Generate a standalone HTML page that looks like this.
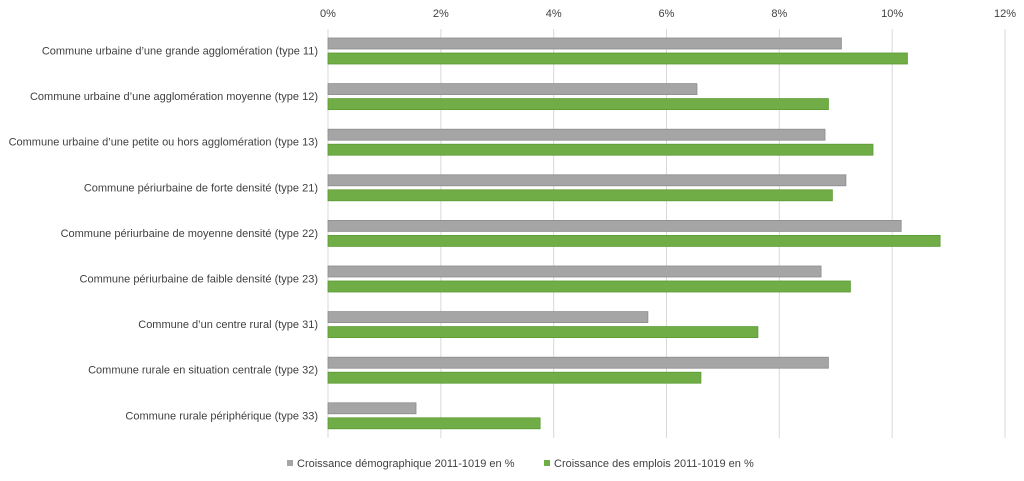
<!DOCTYPE html>
<html><head><meta charset="utf-8"><style>
body{margin:0;background:#fff;font-family:"Liberation Sans",sans-serif;}
svg text{font-family:"Liberation Sans",sans-serif;font-size:11px;fill:#404040;}
</style></head><body>
<svg id="chart" width="1024" height="476" xmlns="http://www.w3.org/2000/svg"></svg>
<script>
const categories=["Commune urbaine d’une grande agglomération (type 11)","Commune urbaine d’une agglomération moyenne (type 12)","Commune urbaine d’une petite ou hors agglomération (type 13)","Commune périurbaine de forte densité (type 21)","Commune périurbaine de moyenne densité (type 22)","Commune périurbaine de faible densité (type 23)","Commune d’un centre rural (type 31)","Commune rurale en situation centrale (type 32)","Commune rurale périphérique (type 33)"];
const demo=[9.1,6.54,8.81,9.18,10.16,8.74,5.67,8.87,1.56];
const emplois=[10.27,8.87,9.66,8.94,10.85,9.26,7.62,6.61,3.76];
const ticks=[0,2,4,6,8,10,12];
const NS="http://www.w3.org/2000/svg";
const svg=document.getElementById('chart');
const x0=328,x1=1005,yTop=28.5,band=45.6;
const xs=v=>x0+(x1-x0)*v/12;
function mk(t,a,p){const e=document.createElementNS(NS,t);for(const k in a)e.setAttribute(k,a[k]);(p||svg).appendChild(e);return e;}
ticks.forEach(t=>{
  const g=mk('line',{x1:xs(t),x2:xs(t),y1:29,y2:438,stroke:'#d9d9d9','stroke-width':1});
  
  
  const l=mk('text',{x:xs(t),y:17,'text-anchor':'middle'});l.textContent=t+'%';
  
  
});
categories.forEach((c,i)=>{
  const yb=yTop+i*band;
  const l=mk('text',{x:318,y:yb+26,'text-anchor':'end'});l.textContent=c;
  
  
  const b1=mk('rect',{x:x0,y:yb+9.5,width:xs(demo[i])-x0,height:11,fill:'#a5a5a5',stroke:'#8c8c8c','stroke-width':0.8});
  
  
  const b2=mk('rect',{x:x0,y:yb+24.5,width:xs(emplois[i])-x0,height:11,fill:'#70ad47',stroke:'#5a9a32','stroke-width':0.8});
  
  
});
const legend=[["Croissance démographique 2011-1019 en %","#a5a5a5",287],["Croissance des emplois 2011-1019 en %","#70ad47",544]];
legend.forEach(([t,c,x])=>{
  const s=mk('rect',{x:x,y:460,width:6,height:6,fill:c});
  
  
  const l=mk('text',{x:x+10,y:467});l.textContent=t;
  
  
});
</script>
</body></html>
